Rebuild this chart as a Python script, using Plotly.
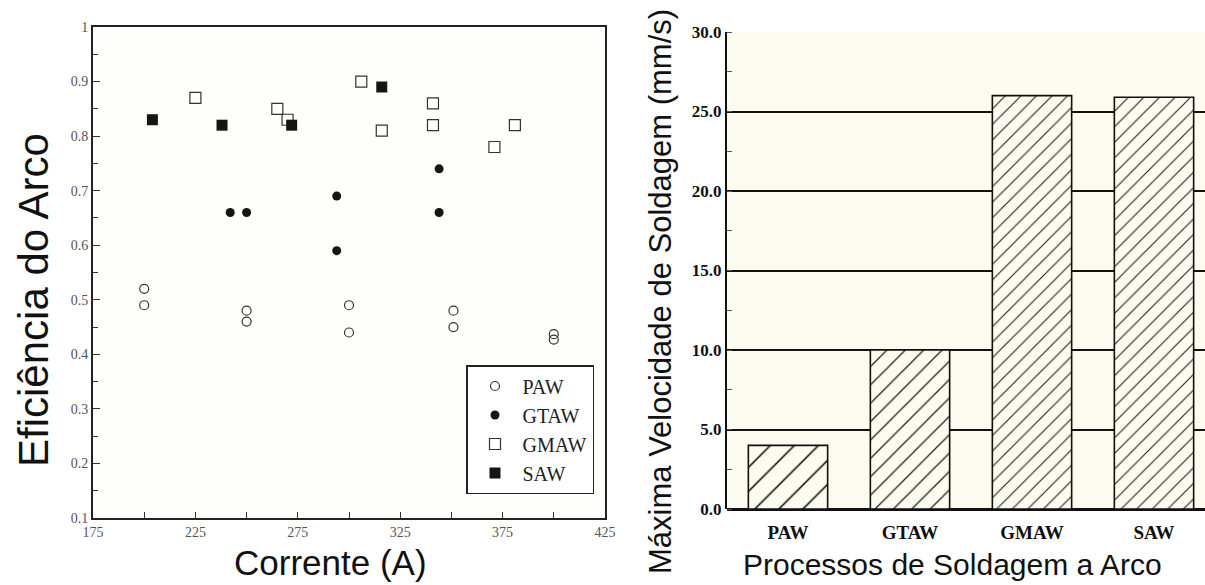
import plotly.graph_objects as go

W, H = 1205, 585

# ---- data: left panel (arc efficiency vs current) ----
paw_current = [200, 200, 250, 250, 300, 300, 351, 351, 400, 400]
paw_eff = [0.52, 0.49, 0.48, 0.46, 0.49, 0.44, 0.48, 0.45, 0.437, 0.427]

gtaw_current = [242, 250, 294, 294, 344, 344]
gtaw_eff = [0.66, 0.66, 0.69, 0.59, 0.74, 0.66]

gmaw_current = [225, 265, 270, 306, 316, 341, 341, 371, 381]
gmaw_eff = [0.87, 0.85, 0.83, 0.90, 0.81, 0.86, 0.82, 0.78, 0.82]

saw_current = [204, 238, 272, 316]
saw_eff = [0.83, 0.82, 0.82, 0.89]

# ---- data: right panel (max welding speed) ----
processes = ["PAW", "GTAW", "GMAW", "SAW"]
max_speed = [4.0, 10.0, 26.0, 25.9]

x_ticks_left = [175, 225, 275, 325, 375, 425]
y_ticks_right = [0, 5, 10, 15, 20, 25, 30]

# ---- styles ----
hatch_sizes = [17, 13, 11, 11]
cream = "#fbfbf0"
serif = "Liberation Serif"
sans = "Liberation Sans"

fig = go.Figure()

def px_x(p):
    return p / W

def px_y(p):
    return 1 - p / H

fig.add_trace(go.Scatter(x=paw_current, y=paw_eff, mode="markers", name="PAW",
                         marker=dict(symbol="circle-open", size=9, color="#333",
                                     line=dict(width=1.2, color="#333")),
                         xaxis="x", yaxis="y"))
fig.add_trace(go.Scatter(x=gtaw_current, y=gtaw_eff, mode="markers", name="GTAW",
                         marker=dict(symbol="circle", size=9, color="#151515"),
                         xaxis="x", yaxis="y"))
fig.add_trace(go.Scatter(x=gmaw_current, y=gmaw_eff, mode="markers", name="GMAW",
                         marker=dict(symbol="square-open", size=11, color="#333",
                                     line=dict(width=1.2, color="#333")),
                         xaxis="x", yaxis="y"))
fig.add_trace(go.Scatter(x=saw_current, y=saw_eff, mode="markers", name="SAW",
                         marker=dict(symbol="square", size=11, color="#151515"),
                         xaxis="x", yaxis="y"))

fig.add_trace(go.Bar(x=processes, y=max_speed, xaxis="x2", yaxis="y2", showlegend=False,
                     width=0.65,
                     marker=dict(color=cream, line=dict(color="#111", width=1.6),
                                 pattern=dict(shape="/", size=hatch_sizes, solidity=0.1,
                                              fgcolor="#222", bgcolor=cream,
                                              fillmode="replace"))))

left_dom_x = [px_x(93), px_x(605)]
left_dom_y = [px_y(518), px_y(27)]
right_dom_x = [px_x(727), 1.0]
right_dom_y = [px_y(509), px_y(32)]
cat_step = 122.0
right_range = [-0.5, (W - 727) / cat_step - 0.5]

fig.update_layout(
    width=W, height=H,
    margin=dict(l=0, r=0, t=0, b=0, autoexpand=False),
    paper_bgcolor="white",
    plot_bgcolor="rgba(0,0,0,0)",
    showlegend=True,
    legend=dict(x=px_x(466), y=px_y(365), xanchor="left", yanchor="top",
                bgcolor="white", bordercolor="#222", borderwidth=1.5,
                font=dict(family=serif, size=20, color="#222"),
                itemwidth=45, tracegroupgap=0),
    xaxis=dict(domain=left_dom_x, range=[175, 425], anchor="y",
               tickmode="array", tickvals=x_ticks_left,
               ticks="inside", ticklen=6, tickcolor="#333",
               minor=dict(dtick=25, tick0=175, ticks="inside", ticklen=6, tickcolor="#333"),
               showline=True, linecolor="#222", linewidth=2, mirror=True,
               showgrid=False, zeroline=False,
               tickfont=dict(family=serif, size=14, color="#555")),
    yaxis=dict(domain=left_dom_y, range=[0.1, 1.0], anchor="x",
               dtick=0.1, tick0=0.1,
               ticks="inside", ticklen=7, tickcolor="#333",
               minor=dict(dtick=0.05, ticks="inside", ticklen=5, tickcolor="#333"),
               showline=True, linecolor="#222", linewidth=2, mirror=True,
               showgrid=False, zeroline=False,
               tickfont=dict(family=serif, size=14, color="#555")),
    xaxis2=dict(domain=right_dom_x, range=right_range, anchor="y2",
                showline=False, showgrid=False, zeroline=False, ticks="",
                ticklabelstandoff=10,
                tickfont=dict(family=serif, size=19, color="#111", weight="bold")),
    yaxis2=dict(domain=right_dom_y, range=[0, 30], anchor="x2",
                tickvals=y_ticks_right, tickformat=".1f",
                showline=True, linecolor="#111", linewidth=2,
                showgrid=True, gridcolor="#111", gridwidth=1.5,
                zeroline=True, zerolinecolor="#111", zerolinewidth=2.5,
                ticks="", minor=dict(dtick=2.5, ticks="inside", ticklen=5, tickcolor="#555",
                                     showgrid=False),
                tickfont=dict(family=serif, size=17, color="#111", weight="bold")),
)

# panel backgrounds
fig.add_shape(type="rect", xref="paper", yref="paper", layer="below",
              x0=left_dom_x[0], x1=left_dom_x[1], y0=left_dom_y[0], y1=left_dom_y[1],
              fillcolor="#fefefb", line=dict(width=0))
fig.add_shape(type="rect", xref="paper", yref="paper", layer="below",
              x0=right_dom_x[0], x1=right_dom_x[1], y0=right_dom_y[0], y1=right_dom_y[1],
              fillcolor=cream, line=dict(width=0))

# axis titles
def title(text, x, y, size, angle=0):
    fig.add_annotation(text=text, xref="paper", yref="paper", x=px_x(x), y=px_y(y),
                       xanchor="center", yanchor="middle", textangle=angle,
                       showarrow=False, font=dict(family=sans, size=size, color="#111"))

title("Eficiência do Arco", 33, 300, 42, -90)
title("Corrente (A)", 330, 562, 35)
title("Máxima Velocidade de Soldagem (mm/s)", 660, 292, 31, -90)
title("Processos de Soldagem a Arco", 952, 564, 30)

fig.write_html("out.html")
